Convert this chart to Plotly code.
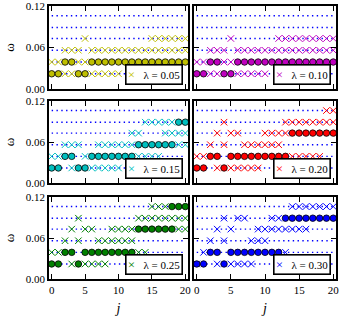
import plotly.graph_objects as go

# ---------------- data ----------------
j_vals = [0, 1, 2, 3, 4, 5, 6, 7, 8, 9, 10, 11, 12, 13, 14, 15, 16, 17, 18, 19, 20]
levels = [0.022, 0.039, 0.056, 0.073, 0.089, 0.106]
lambdas = ["0.05", "0.10", "0.15", "0.20", "0.25", "0.30"]
colors = ["#bfbf00", "#bf00bf", "#00bfbf", "#ff0000", "#008000", "#0000ff"]
y_ticks = [0.0, 0.06, 0.12]
y_ticktext = ["0.00", "0.06", "0.12"]
x_ticks = [0, 5, 10, 15, 20]

# crosses: one list of j per level (lowest level first)
cross_005 = [[2, 3, 6, 7, 8, 9, 10], [0, 1, 4, 5],
             [2, 3, 4, 6, 7, 8, 9, 10, 11, 12, 13, 14, 15, 16, 17, 18, 19, 20],
             [5, 15, 16, 17, 18, 19, 20], [], []]
circ_005 = [[0, 1, 4, 5], [2, 3, 6, 7, 8, 9, 10, 11, 12, 13, 14, 15, 16, 17, 18, 19, 20],
            [], [], [], []]

cross_010 = [[2, 3, 6, 7, 8, 9, 10], [0, 1, 4, 5],
             [2, 3, 4, 6, 7, 8, 9, 10, 11, 12, 13, 14, 15, 16, 17, 18, 19, 20],
             [5, 12, 13, 14, 15, 16, 17, 18, 19, 20], [], []]
circ_010 = [[0, 1, 4, 5], [2, 3, 6, 7, 8, 9, 10, 11, 12, 13, 14, 15, 16, 17, 18, 19, 20],
            [], [], [], []]

cross_015 = [[3, 6, 7, 8, 9, 10], [0, 1, 5, 13, 14, 15, 16],
             [2, 3, 4, 7, 8, 9, 10, 11, 12, 19, 20], [12, 13, 17, 18, 19, 20],
             [14, 15, 16, 17, 18], []]
circ_015 = [[0, 1, 4, 5], [2, 3, 6, 7, 8, 9, 10, 11, 12],
            [13, 14, 15, 16, 17, 18], [], [19, 20], []]

cross_020 = [[3, 5, 6, 7, 8, 9], [0, 1, 14, 15, 16, 17, 18],
             [2, 4, 7, 8, 9, 10, 11, 12], [3, 5, 6, 10, 11, 12, 13],
             [4, 13, 14, 15, 16, 17, 18, 19, 20], [19, 20]]
circ_020 = [[0, 1, 4], [2, 3, 5, 6, 7, 8, 9, 10, 11, 12, 13], [],
            [14, 15, 16, 17, 18, 19, 20], [], []]

cross_025 = [[3, 5, 6, 7, 8], [0, 1, 13, 14], [2, 4, 7, 8, 9, 10, 11, 12],
             [3, 5, 6, 9, 10, 11, 12, 19, 20],
             [4, 13, 14, 15, 16, 17, 18, 19, 20], [15, 16, 17]]
circ_025 = [[0, 1, 4], [2, 3, 5, 6, 7, 8, 9, 10, 11, 12], [],
            [13, 14, 15, 16, 17, 18], [], [18, 19, 20]]

cross_030 = [[0, 3, 5, 6, 7, 8], [1, 13], [2, 4, 8, 9, 10],
             [3, 5, 9, 10, 11, 12, 13, 14, 15, 16], [4, 6, 7, 11, 12],
             [14, 15, 16, 17, 18, 19, 20]]
circ_030 = [[0, 1, 4], [2, 3, 5, 6, 7, 8, 9, 10, 11, 12], [], [],
            [13, 14, 15, 16, 17, 18, 19, 20], []]

crosses = [cross_005, cross_010, cross_015, cross_020, cross_025, cross_030]
circles = [circ_005, circ_010, circ_015, circ_020, circ_025, circ_030]

# ---------------- layout geometry ----------------
W, H = 341, 316
x_doms = [[49 / W, 188 / W], [194 / W, 336 / W]]
y_doms = [[1 - 89 / H, 1 - 6 / H], [1 - 183 / H, 1 - 101 / H], [1 - 279 / H, 1 - 197 / H]]
FONT = "Liberation Serif"

fig = go.Figure()
layout = dict(
    width=W, height=H, margin=dict(l=0, r=0, t=0, b=0),
    paper_bgcolor="white", plot_bgcolor="white", showlegend=False,
    font=dict(family=FONT, size=11, color="black"),
)
annotations = []

for p in range(6):
    r, c = divmod(p, 2)
    sfx = "" if p == 0 else str(p + 1)
    xa, ya = "x" + sfx, "y" + sfx
    # dotted guide lines
    for lv in levels:
        fig.add_trace(go.Scatter(
            x=j_vals, y=[lv] * len(j_vals), mode="lines", xaxis=xa, yaxis=ya,
            line=dict(color="#0000ff", width=1.4, dash="1.4px,3.4px"),
            hoverinfo="skip"))
    # crosses
    cx, cy = [], []
    for lv, js in zip(levels, crosses[p]):
        cx += js
        cy += [lv] * len(js)
    fig.add_trace(go.Scatter(
        x=cx, y=cy, mode="markers", xaxis=xa, yaxis=ya,
        marker=dict(symbol="x-thin", size=6.5, color=colors[p],
                    line=dict(color=colors[p], width=1))))
    # circles
    ox, oy = [], []
    for lv, js in zip(levels, circles[p]):
        ox += js
        oy += [lv] * len(js)
    fig.add_trace(go.Scatter(
        x=ox, y=oy, mode="markers", xaxis=xa, yaxis=ya,
        marker=dict(symbol="circle", size=6.5, color=colors[p],
                    line=dict(color="black", width=0.8))))

    axis_common = dict(
        showgrid=False, zeroline=False, showline=True, linecolor="black",
        linewidth=1.8, mirror="allticks", ticks="inside", ticklen=5,
        tickwidth=1, tickcolor="black", automargin=False,
        ticklabeloverflow="allow",
        tickfont=dict(family=FONT, size=11, color="black"),
    )
    layout["xaxis" + sfx] = dict(
        axis_common, domain=x_doms[c], anchor=ya, range=[-0.4, 20.4],
        tickmode="array", tickvals=x_ticks, showticklabels=(r == 2),
        title=dict(text="<i>j</i>", font=dict(family=FONT, size=14), standoff=8) if r == 2 else None,
    )
    layout["yaxis" + sfx] = dict(
        axis_common, domain=y_doms[r], anchor=xa, range=[0, 0.12],
        tickmode="array", tickvals=y_ticks, ticktext=y_ticktext,
        showticklabels=(c == 0),
        title=dict(text="ω", font=dict(family=FONT, size=13), standoff=8) if c == 0 else None,
    )
    annotations.append(dict(
        xref=f"{xa} domain", yref=f"{ya} domain", x=0.965, y=0.05,
        xanchor="right", yanchor="bottom", showarrow=False,
        text=(f"<span style='color:{colors[p]};font-size:13px'>×</span>"
              f"&nbsp;&nbsp;&nbsp;λ = {lambdas[p]}"),
        font=dict(family=FONT, size=11, color="black"),
        bgcolor="white", bordercolor="black", borderwidth=1.6, borderpad=1.2,
    ))

layout["annotations"] = annotations
fig.update_layout(**layout)
fig.write_html(
    "out.html",
    config={"displayModeBar": False},
    post_script="document.body.style.margin='0';document.body.style.padding='0';",
)
